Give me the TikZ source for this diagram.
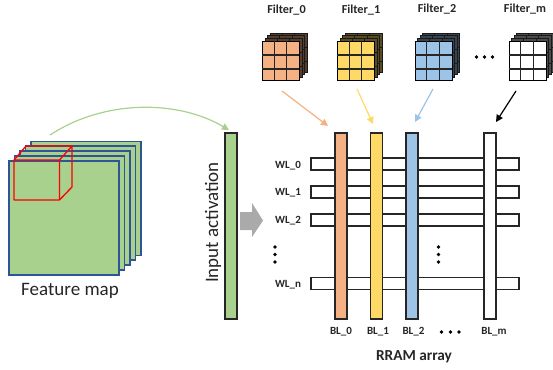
\documentclass[tikz,border=0pt]{standalone}
\usepackage{fontspec}
\setmainfont{Carlito}
\usetikzlibrary{arrows.meta,calc}
\definecolor{leaf}{HTML}{A9D18E}
\definecolor{sheetline}{HTML}{2F5597}
\definecolor{peach}{HTML}{F4B183}
\definecolor{sun}{HTML}{FFD966}
\definecolor{sky}{HTML}{9DC3E6}
\definecolor{heavy}{HTML}{AAAAAA}
\definecolor{bar}{HTML}{262626}
\tikzset{
  x=1pt,y=-1pt,
  sheet/.style={draw=sheetline,fill=leaf,line width=1.2pt,rectangle,inner sep=0pt,minimum width=110pt,minimum height=114pt},
  wordline/.style={draw=bar,fill=white,line width=1.2pt,rectangle,inner sep=0pt,minimum width=208pt,minimum height=12pt},
  bitline/.style={draw=bar,line width=1.2pt,rectangle,inner sep=0pt,minimum width=12pt,minimum height=186pt},
  smalllabel/.style={font=\bfseries\fontsize{11}{13}\selectfont,text=bar,inner sep=0pt},
  filterlabel/.style={font=\bfseries\fontsize{12.2}{14}\selectfont,text=bar,inner sep=0pt},
  biglabel/.style={font=\fontsize{19}{22}\selectfont,text=bar,inner sep=0pt},
  feed/.style={line width=1.2pt,-{Triangle[length=7pt,width=7pt]}},
  tinydot/.style={circle,fill=black,inner sep=0pt,minimum size=3.8pt},
}
\newcommand{\filtercube}[4]{% name, left x, fill, back colour
  \foreach \o in {8,5.5,3}{
    \draw[fill=#4,draw=black!90,line width=.8pt] (#2+\o,41-\o) rectangle (#2+37+\o,80-\o);
    \draw[draw=black!90,line width=.8pt] (#2+12.3+\o,41-\o) -- (#2+12.3+\o,80-\o) (#2+24.6+\o,41-\o) -- (#2+24.6+\o,80-\o) (#2+\o,55-\o) -- (#2+37+\o,55-\o) (#2+\o,69-\o) -- (#2+37+\o,69-\o);
  }
  \node[draw=black,fill=#3,line width=1.3pt,rectangle,inner sep=0pt,minimum width=37pt,minimum height=39pt,anchor=north west] (#1) at (#2,41) {};
  \draw[line width=1.2pt,draw=black!85] (#2+12.3,41) -- (#2+12.3,80) (#2+24.6,41) -- (#2+24.6,80) (#2,55) -- (#2+37,55) (#2,69) -- (#2+37,69);
}
\begin{document}
\begin{tikzpicture}
\useasboundingbox (0,0) rectangle (553,369);
% feature map
\node[sheet] (s4) at (86,198.5) {};
\node[sheet] (s3) at (80.5,203) {};
\node[sheet] (s2) at (75,208) {};
\node[sheet] (s1) at (69.5,213) {};
\node[sheet] (s0) at (64,218) {};
\draw[red,line width=1.3pt,line join=round] (14,160) rectangle (59.5,200)
  (14,160) -- (26,146) -- (72,146) -- (59.5,160)
  (72,146) -- (72,187) -- (59.5,200);
\node[biglabel] (fmap) at (70,290.5) {Feature map};
% input activation
\node[draw=bar,fill=leaf,line width=1.2pt,rectangle,inner sep=0pt,minimum width=12pt,minimum height=186pt] (ia) at (231,226) {};
\node[biglabel,rotate=90] (ial) at (213,222.5) {Input activation};
\coordinate (curvestart) at (50,135);
\coordinate (curveend) at (229,130);
\draw[leaf,line width=1.2pt,-{Triangle[length=7pt,width=7pt]}] (curvestart) .. controls (105,99) and (178,100) .. (curveend);
\draw[draw=none,fill=heavy] (240,212) -- (252,212) -- (252,203) -- (263,220.5) -- (252,237) -- (252,230) -- (240,230) -- cycle;
% word lines
\node[wordline] (w0) at (415,164) {};
\node[wordline] (w1) at (415,192) {};
\node[wordline] (w2) at (415,220) {};
\node[wordline] (wn) at (415,283.5) {};
% bit lines
\node[bitline,fill=peach] (b0) at (341,226) {};
\node[bitline,fill=sun] (b1) at (376.5,226) {};
\node[bitline,fill=sky] (b2) at (412,226) {};
\node[bitline,fill=white] (bm) at (490,226) {};
% labels
\node[smalllabel] (lw0) at (288,166) {WL\_0};
\node[smalllabel] (lw1) at (288,193) {WL\_1};
\node[smalllabel] (lw2) at (288,221) {WL\_2};
\node[smalllabel] (lwn) at (288,285) {WL\_n};
\node[smalllabel] (lb0) at (341,332) {BL\_0};
\node[smalllabel] (lb1) at (378,332) {BL\_1};
\node[smalllabel] (lb2) at (413.5,332) {BL\_2};
\node[smalllabel] (lbm) at (494,332) {BL\_m};
\node[font=\bfseries\fontsize{15.3}{17}\selectfont,text=bar,inner sep=0pt] (rram) at (414,357) {RRAM array};
\foreach \n/\px/\py in {a/275/247,b/275/254.5,c/275/262,d/438.5/247,e/438.5/254.5,f/438.5/262,g/441.5/332,h/450.5/332,i/459/332,j/476.5/57,k/484.5/57,l/492.5/57}
  \node[tinydot] (dot\n) at (\px,\py) {};
% filters
\filtercube{f0}{262}{peach}{peach!35!black}
\filtercube{f1}{337}{sun}{sun!35!black}
\filtercube{f2}{414.5}{sky}{sky!35!black}
\filtercube{fm}{508.5}{white}{black!70}
\node[filterlabel] (t0) at (286.5,10) {Filter\_0};
\node[filterlabel] (t1) at (361,10) {Filter\_1};
\node[filterlabel] (t2) at (437,9) {Filter\_2};
\node[filterlabel] (tm) at (525,9) {Filter\_m};
\coordinate (a0) at (282,91); \coordinate (a0e) at (328,126);
\coordinate (a1) at (357,89); \coordinate (a1e) at (373,124);
\coordinate (a2) at (433,89); \coordinate (a2e) at (415,122);
\coordinate (am) at (516,91); \coordinate (ame) at (496,122);
\draw[feed,peach] (a0) -- (a0e);
\draw[feed,sun] (a1) -- (a1e);
\draw[feed,sky] (a2) -- (a2e);
\draw[feed,black] (am) -- (ame);
\end{tikzpicture}
\end{document}
